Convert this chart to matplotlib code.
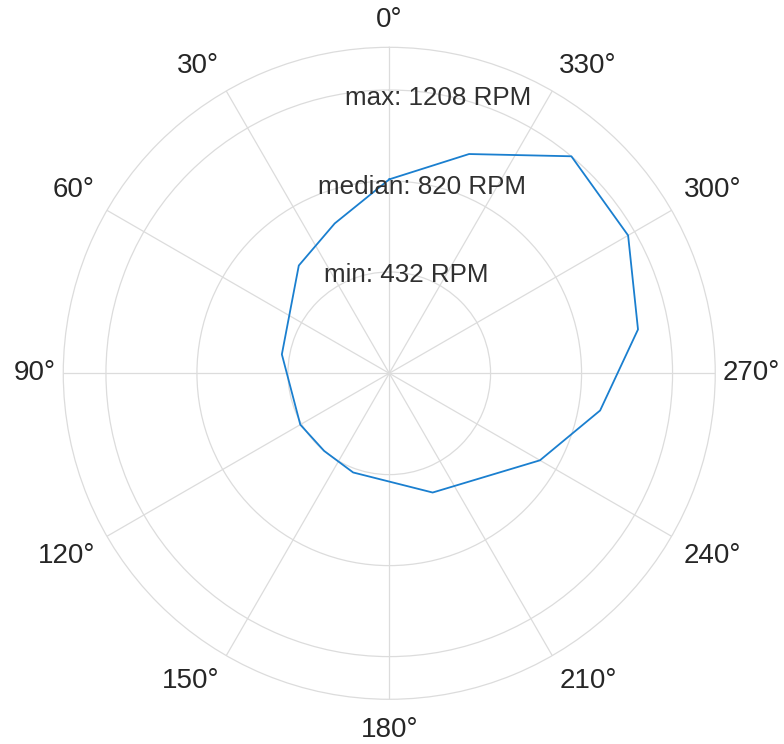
import numpy as np
import matplotlib
matplotlib.use("Agg")
import matplotlib.pyplot as plt

# Data
theta_deg = [0, 20, 40, 80, 120, 140, 160, 200, 240, 260, 280, 300, 320, 340]
rpm = [827, 680, 600, 465, 438, 432, 450, 541, 742, 913, 1077, 1176, 1208, 995]
r_ticks = [432, 820, 1208]
r_max = 1390
theta_tick_deg = list(range(0, 360, 30))
theta_tick_labels = [f"{d}\u00b0" for d in theta_tick_deg]
annot_labels = ["max: 1208 RPM", "median: 820 RPM", "min: 432 RPM"]
annot_r = [1190, 805, 425]
annot_theta_deg = 350

plt.rcParams['font.family'] = ['Liberation Sans', 'DejaVu Sans']

fig = plt.figure(figsize=(7.84, 7.44), dpi=100)
ax = fig.add_axes([0.0807, 0.0601, 0.8316, 0.8763], projection='polar')
ax.set_theta_zero_location('N')
ax.set_theta_direction(1)

th = np.deg2rad(theta_deg + [theta_deg[0]])
rr = rpm + [rpm[0]]
ax.plot(th, rr, color='#1a7fcf', lw=1.3, zorder=3)

ax.set_ylim(0, r_max)
ax.set_yticks(r_ticks)
ax.set_yticklabels([])
ax.set_thetagrids(theta_tick_deg, [''] * len(theta_tick_deg))
ax.tick_params(axis='y', length=0)
ax.grid(True, color='#dcdcdc', lw=0.9)
ax.spines['polar'].set_color('#dcdcdc')
ax.spines['polar'].set_linewidth(0.9)

# theta tick labels placed outside the outer circle, aligned by side
for d, lab in zip(theta_tick_deg, theta_tick_labels):
    cw = (360 - d) % 360  # clockwise angle from top
    if cw in (0, 180):
        ha = 'center'
    elif cw < 180:
        ha = 'left'
    else:
        ha = 'right'
    if cw in (90, 270):
        va = 'center'
        rl = r_max * 1.024
    elif cw < 90 or cw > 270:
        va = 'bottom'
        rl = r_max * 1.043
    else:
        va = 'top'
        rl = r_max * 1.043
    if cw == 180:
        rl = r_max * 1.055
    ax.text(np.deg2rad(d), rl, lab, ha=ha, va=va, fontsize=20,
            color='#262626', clip_on=False)

for lab, r in zip(annot_labels, annot_r):
    ax.text(np.deg2rad(annot_theta_deg), r, lab, ha='center', va='center',
            fontsize=18.7, color='#303030', zorder=4)

fig.savefig('out.png', dpi=100)
